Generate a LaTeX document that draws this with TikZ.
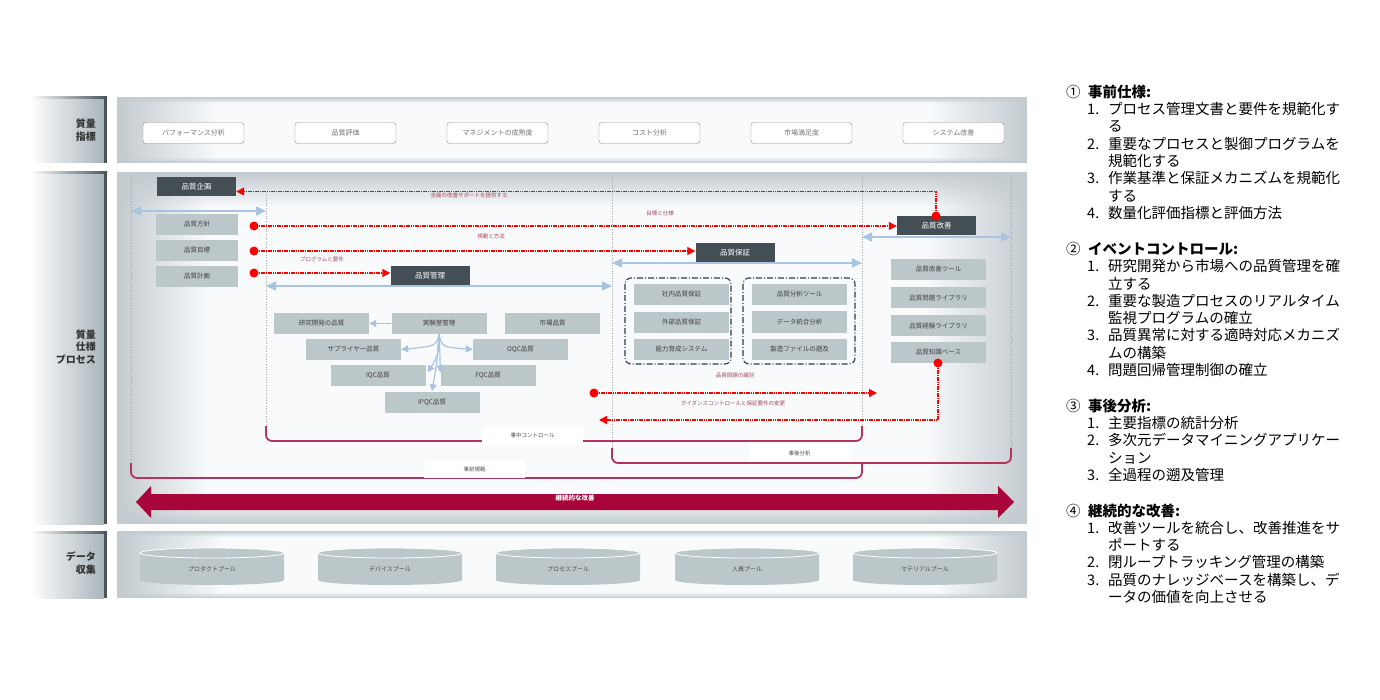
\documentclass[tikz,border=0pt]{standalone}
\usepackage{fontspec}
\setmainfont{Noto Sans CJK JP}
\usetikzlibrary{arrows.meta,fadings}
\definecolor{slate}{HTML}{434F55}
\definecolor{itemgray}{HTML}{BCC7CA}
\definecolor{edge}{HTML}{C3CBCF}
\definecolor{panelbg}{HTML}{F8FAFC}
\definecolor{tabgray}{HTML}{A9B5BA}
\definecolor{tabdark}{HTML}{4A555A}
\definecolor{spanblue}{HTML}{A9C4E0}
\definecolor{crimson}{HTML}{A8063A}
\definecolor{bracketred}{HTML}{B5345C}
\definecolor{labelred}{HTML}{A5475A}
\definecolor{frameblue}{HTML}{2B3A57}
\tikzset{
  metric/.style={draw=gray!90, rounded corners=3pt, fill=white, minimum width=101, minimum height=21, font=\fontsize{7}{8}\selectfont, text=gray!90!black},
  head/.style={fill=slate, text=white, minimum width=79, minimum height=19, inner sep=0, font=\fontsize{7.5}{8}\selectfont},
  item/.style={fill=itemgray, minimum width=95, minimum height=21, inner sep=0, font=\fontsize{6.5}{7}\selectfont, text=black!75},
  tag/.style={text=labelred, inner sep=1pt, font=\fontsize{5.5}{6}\selectfont},
  flow/.style={draw=red, line width=1.3pt, dash pattern=on 1.6pt off 0.7pt, -{Triangle[length=8pt,width=8pt,fill=red]}},
  span/.style={spanblue, line width=1.5pt, {Triangle[length=10pt,width=9pt]}-{Triangle[length=10pt,width=9pt]}},
  tree/.style={spanblue, line width=1.2pt, -{Triangle[length=7pt,width=7pt]}},
  reddot/.style={circle, fill=red, inner sep=0, minimum size=9},
  guide/.style={gray!70, dotted, line width=0.6pt},
  phaseline/.style={bracketred, line width=1.8pt, rounded corners=6pt},
  phasetag/.style={fill=white, minimum width=101, minimum height=18, inner sep=0, font=\fontsize{5.5}{6}\selectfont, text=black!70},
  tabtext/.style={align=right, anchor=east, inner sep=0, text=black!80, font=\bfseries\fontsize{10}{12.5}\selectfont},
  qaframe/.style={frameblue, line width=1.1pt, dash pattern=on 6pt off 2pt on 1pt off 2pt, rounded corners=6pt},
  note/.style={anchor=base west, align=left, inner sep=0, font=\fontsize{14.5}{17.3}\selectfont}
}
\begin{document}
\begin{tikzpicture}[x=1pt,y=-1pt]
\useasboundingbox (0,0) rectangle (1380,700);
\fill[white] (0,0) rectangle (1380,700);
\foreach \ya/\yb/\ut/\ub/\ul/\ur in {97/163/6/6/100/97, 172/524/35/25/90/100, 531/598/6/6/105/90}{
  \shade[left color=white, middle color=white!65!tabgray, right color=tabgray] (30,\ya) rectangle (104,\yb);
  \shade[left color=white, right color=tabdark] (30,\ya) rectangle (107,\ya+2);
  \fill[tabdark] (104,\ya) rectangle (107,\yb);
  \fill[panelbg] (117,\ya) rectangle (1027,\yb);
  \fill[edge, path fading=south] (117,\ya) rectangle (1027,\ya+\ut);
  \fill[edge, path fading=north] (117,\yb-\ub) rectangle (1027,\yb);
  \fill[edge, path fading=east] (117,\ya) rectangle (117+\ul,\yb);
  \fill[edge, path fading=west] (1027-\ur,\ya) rectangle (1027,\yb);
}
\node[tabtext] (metricstab) at (96,130) {質量\\指標};
\node[tabtext] (processtab) at (96,347) {質量\\仕様\\プロセス};
\node[tabtext] (datatab) at (96,563) {データ\\収集};

\foreach \name/\txt [count=\i from 0] in {perf/パフォーマンス分析, evaluation/品質評価, maturity/マネジメントの成熟度, cost/コスト分析, satisfaction/市場満足度, system/システム改善}
  \node[metric] (\name) at (193.5+152*\i,133) {\txt};

\draw[guide] (131,178) -- (131,462);
\draw[guide] (266,195) -- (266,428);
\draw[guide] (612,177) -- (612,450);
\draw[guide] (862,177) -- (862,428);
\draw[guide] (1011,177) -- (1011,450);

\node[head] (plan) at (196.5,186.5) {品質企画};
\node[item, minimum width=82] (policy) at (197,224.5) {品質方針};
\node[item, minimum width=82] (target) at (197,250.5) {品質目標};
\node[item, minimum width=82] (schedule) at (197,276.5) {品質計画};
\node[head] (control) at (430,275.5) {品質管理};
\node[head] (assure) at (735,252.5) {品質保証};
\node[head] (improve) at (936.5,225.5) {品質改善};

\coordinate (g1) at (131,211);
\coordinate (g2) at (266,211);
\coordinate (g3) at (266,286);
\coordinate (g4) at (612,286);
\coordinate (g5) at (612,263);
\coordinate (g6) at (862,263);
\coordinate (g7) at (862,237);
\coordinate (g8) at (1011,237);
\draw[span] (g1) -- (g2);
\draw[span] (g3) -- (g4);
\draw[span] (g5) -- (g6);
\draw[span] (g7) -- (g8);

\node[reddot] (d1) at (254,226) {};
\node[reddot] (d2) at (254,251) {};
\node[reddot] (d3) at (254,273) {};
\node[reddot] (d4) at (936,216) {};
\draw[flow] (d1) -- (d1 -| improve.west);
\draw[flow] (d2) -- (d2 -| assure.west);
\draw[flow] (d3) -- (d3 -| control.west);
\draw[flow] (d4) |- ([yshift=-5pt]plan.east);
\node[tag] (l1) at (469,195) {全面の改善サポートを提供する};
\node[tag] (l2) at (660,213) {目標と仕様};
\node[tag] (l3) at (491,236) {規範と方法};
\node[tag] (l4) at (322,259) {プログラムと要件};

\node[item] (rd) at (321.5,323.5) {研究開発の品質};
\node[item] (lab) at (439,323.5) {実験室管理};
\node[item] (market) at (552.5,323.5) {市場品質};
\node[item] (supplier) at (353.5,349.5) {サプライヤー品質};
\node[item] (oqc) at (520.5,349.5) {OQC品質};
\node[item] (iqc) at (378,375.5) {IQC品質};
\node[item] (fqc) at (488,375.5) {FQC品質};
\node[item] (ipqc) at (432,402) {IPQC品質};
\draw[tree] (lab) -- (rd);
\draw[tree] (lab.south) .. controls (436,346) .. (supplier.east);
\draw[tree] (lab.south) .. controls (442,347) .. (oqc.west);
\draw[tree] (lab.south) .. controls (438,356) .. ([shift={(2,-3)}]iqc.east);
\draw[tree] (lab.south) .. controls (440,356) .. ([shift={(0,-3)}]fqc.west);
\draw[tree] (lab.south) .. controls (437,362) .. (ipqc.north);

\draw[qaframe] (625,278) rectangle (731,364);
\draw[qaframe] (743,278) rectangle (855,364);
\node[item] (internal) at (681.5,294.5) {社内品質保証};
\node[item] (external) at (681.5,322.5) {外部品質保証};
\node[item] (training) at (681.5,349.5) {能力育成システム};
\node[item] (tools) at (799.5,294.5) {品質分析ツール};
\node[item] (fusion) at (799.5,322) {データ統合分析};
\node[item] (trace) at (799.5,349.5) {製造ファイルの遡及};

\node[item] (kaizen) at (938.5,269.5) {品質改善ツール};
\node[item] (issues) at (938.5,297.5) {品質問題ライブラリ};
\node[item] (lessons) at (938.5,325.5) {品質経験ライブラリ};
\node[item] (knowledge) at (938.5,352.5) {品質知識ベース};

\node[tag] (l5) at (735,375) {品質問題の識別};
\node[reddot] (d5) at (938,363) {};
\coordinate (e5) at (599,420);
\draw[flow] (d5) |- (e5);
\node[reddot] (d6) at (594,393) {};
\coordinate (e6) at (877,393);
\draw[flow] (d6) -- (e6);
\node[tag] (l6) at (733,403) {ガイダンスコントロールと保証要件の変更};

\draw[phaseline] (266,426) -- (266,441) -- (862,441) -- (862,426);
\node[phasetag] (during) at (532.5,435.5) {事中コントロール};
\draw[phaseline] (612,448) -- (612,463) -- (1011,463) -- (1011,448);
\node[phasetag] (after) at (799.5,453) {事後分析};
\draw[phaseline] (131,463) -- (131,478) -- (862,478) -- (862,463);
\node[phasetag] (before) at (474.5,469) {事前規範};

\fill[crimson] (136,502) -- (151,486) -- (151,494) -- (998,494) -- (998,486) -- (1014,502) -- (998,518) -- (998,510) -- (151,510) -- (151,518) -- cycle;
\node[text=white, font=\bfseries\fontsize{6.5}{7}\selectfont] (loop) at (575,498) {継続的な改善};

\foreach \cx/\txt [count=\i] in {212/プロダクトプール, 390/デバイスプール, 568/プロセスプール, 747/人員プール, 925/マテリアルプール}{
  \fill[itemgray] (\cx-72,553) -- (\cx-72,580) arc[start angle=180, end angle=360, x radius=72pt, y radius=5pt] -- (\cx+72,553) arc[start angle=0, end angle=180, x radius=72pt, y radius=5pt] -- cycle;
  \draw[white, line width=0.8pt] (\cx,553) ellipse[x radius=72pt, y radius=5pt];
  \node[text=black!70, font=\fontsize{6}{7}\selectfont] (pool\i) at (\cx,569) {\txt};
}

\node[note] (prior) at (1066,218.5) {\makebox[22pt][l]{①}\textbf{事前仕様:}\\
\hspace*{21pt}\makebox[21pt][l]{1.}プロセス管理文書と要件を規範化す\\
\hspace*{42pt}る\\
\hspace*{21pt}\makebox[21pt][l]{2.}重要なプロセスと製御プログラムを\\
\hspace*{42pt}規範化する\\
\hspace*{21pt}\makebox[21pt][l]{3.}作業基準と保証メカニズムを規範化\\
\hspace*{42pt}する\\
\hspace*{21pt}\makebox[21pt][l]{4.}数量化評価指標と評価方法};
\node[note] (event) at (1066,375.5) {\makebox[22pt][l]{②}\textbf{イベントコントロール:}\\
\hspace*{21pt}\makebox[21pt][l]{1.}研究開発から市場への品質管理を確\\
\hspace*{42pt}立する\\
\hspace*{21pt}\makebox[21pt][l]{2.}重要な製造プロセスのリアルタイム\\
\hspace*{42pt}監視プログラムの確立\\
\hspace*{21pt}\makebox[21pt][l]{3.}品質異常に対する適時対応メカニズ\\
\hspace*{42pt}ムの構築\\
\hspace*{21pt}\makebox[21pt][l]{4.}問題回帰管理制御の確立};
\node[note] (review) at (1066,480.5) {\makebox[22pt][l]{③}\textbf{事後分析:}\\
\hspace*{21pt}\makebox[21pt][l]{1.}主要指標の統計分析\\
\hspace*{21pt}\makebox[21pt][l]{2.}多次元データマイニングアプリケー\\
\hspace*{42pt}ション\\
\hspace*{21pt}\makebox[21pt][l]{3.}全過程の遡及管理};
\node[note] (continual) at (1066,602.5) {\makebox[22pt][l]{④}\textbf{継続的な改善:}\\
\hspace*{21pt}\makebox[21pt][l]{1.}改善ツールを統合し、改善推進をサ\\
\hspace*{42pt}ポートする\\
\hspace*{21pt}\makebox[21pt][l]{2.}閉ループトラッキング管理の構築\\
\hspace*{21pt}\makebox[21pt][l]{3.}品質のナレッジベースを構築し、デ\\
\hspace*{42pt}ータの価値を向上させる};
\end{tikzpicture}
\end{document}
